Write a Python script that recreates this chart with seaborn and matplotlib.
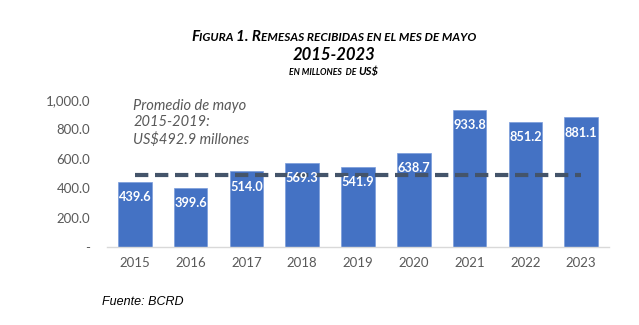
import matplotlib
matplotlib.use("Agg")
import matplotlib.pyplot as plt
import seaborn as sns
import pandas as pd

years = ["2015", "2016", "2017", "2018", "2019", "2020", "2021", "2022", "2023"]
values = [439.6, 399.6, 514.0, 569.3, 541.9, 638.7, 933.8, 851.2, 881.1]
average = 492.9
yticks = [0, 200, 400, 600, 800, 1000]
ytick_labels = ["-", "200.0", "400.0", "600.0", "800.0", "1,000.0"]

sns.set_theme(style="white")
plt.rcParams["font.family"] = ["Lato", "DejaVu Sans"]

W, H = 639, 325
fig = plt.figure(figsize=(W / 100, H / 100), dpi=100)
ax = fig.add_axes([107 / W, 1 - 247 / H, (609 - 107) / W, (247 - 100) / H])

df = pd.DataFrame({"year": years, "value": values})
sns.barplot(data=df, x="year", y="value", color="#4472C4", saturation=1,
            width=0.6, edgecolor="#7A9CDB", linewidth=0.5, ax=ax)

ax.plot([0, len(years) - 1], [average, average], color="#44546A", lw=3,
        dashes=(3.2, 1.6), zorder=5)

for i, v in enumerate(values):
    ax.text(i, v - 62, f"{v:.1f}", ha="center", va="top", color="white",
            fontsize=9.2, fontweight="bold", zorder=6)

ax.set_xlim(-0.5, len(years) - 0.5)
ax.set_ylim(0, 1000)
ax.set_yticks(yticks)
ax.set_yticklabels(ytick_labels)
ax.set_xlabel("")
ax.set_ylabel("")
ax.tick_params(axis="both", colors="#595959", labelsize=9.5, length=0)
ax.tick_params(axis="y", pad=12)
ax.tick_params(axis="x", pad=7)
for s in ["top", "right", "left"]:
    ax.spines[s].set_visible(False)
ax.spines["bottom"].set_color("#D9D9D9")
ax.spines["bottom"].set_linewidth(1)

ax.text(-0.03, 1010, "Promedio de mayo\n2015-2019:\nUS$492.9 millones",
        ha="left", va="top", fontsize=10.5, style="italic", color="#595959",
        linespacing=1.25)

# small caps title helper
renderer = fig.canvas.get_renderer()


def runs_centered(y_px, runs, xc_px=334):
    texts = []
    for s, size in runs:
        t = fig.text(0, 1 - y_px / H, s, fontsize=size, fontweight="bold",
                     style="italic", color="black", va="baseline", ha="left")
        texts.append(t)
    widths = [t.get_window_extent(renderer).width for t in texts]
    total = sum(widths)
    x = xc_px - total / 2
    for t, w in zip(texts, widths):
        t.set_x(x / W)
        x += w


big, small = 11, 8.6
runs_centered(41, [("F", big), ("IGURA ", small), ("1. R", big),
                   ("EMESAS RECIBIDAS EN EL MES DE MAYO", small)])
runs_centered(60, [("2015-2023", 12)])
runs_centered(75, [("EN MILLONES  DE ", 6.2), ("US$", 8)])

fig.text(102 / W, 1 - 305 / H, "Fuente: BCRD", fontsize=9, style="italic",
         family=["Liberation Sans", "DejaVu Sans"], color="black")

fig.savefig("out.png", dpi=100)
